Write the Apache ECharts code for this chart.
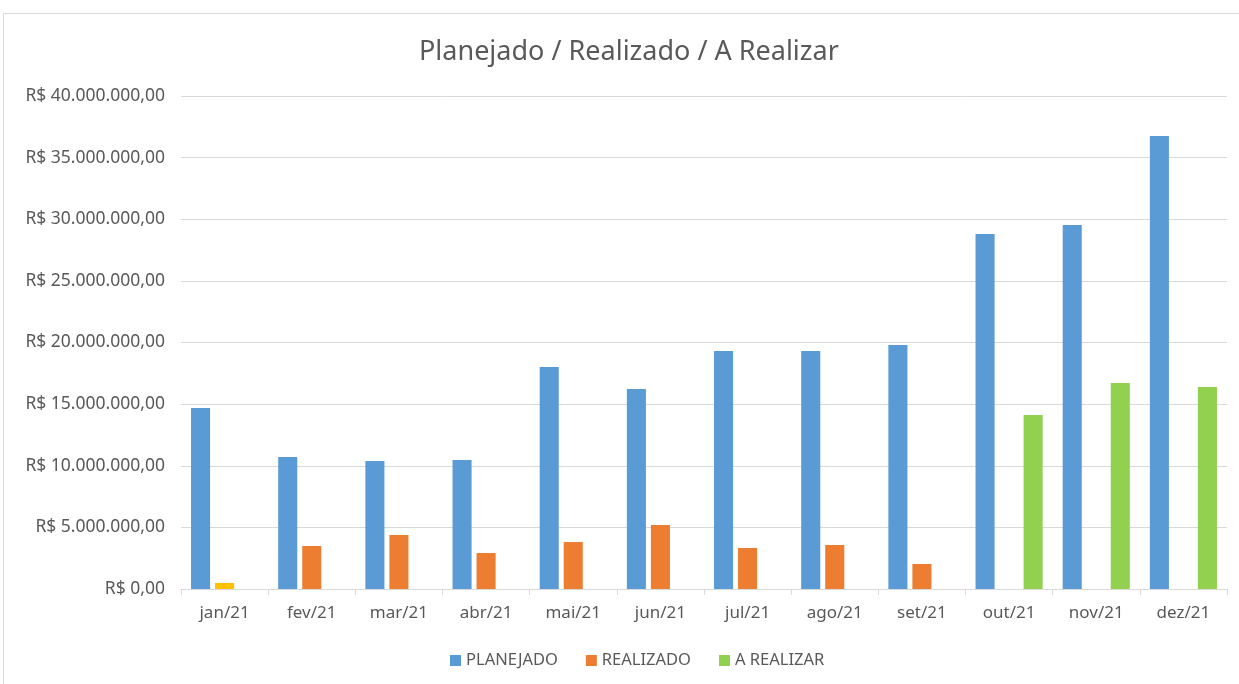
<!DOCTYPE html>
<html><head><meta charset="utf-8">
<script src="https://cdn.jsdelivr.net/npm/echarts@6/dist/echarts.min.js"></script>
<style>html,body{margin:0;padding:0;background:#fff}#c{width:1239px;height:684px}</style>
</head><body><div id="c"></div>
<script>
var categories = ['jan/21','fev/21','mar/21','abr/21','mai/21','jun/21','jul/21','ago/21','set/21','out/21','nov/21','dez/21'];
var planejado = [14690000,10710000,10390000,10470000,18010000,16230000,19310000,19310000,19800000,28800000,29530000,36750000];
var realizado = [490000,3490000,4380000,2920000,3810000,5190000,3330000,3570000,2030000,null,null,null];
var aRealizar = [null,null,null,null,null,null,null,null,null,14120000,16710000,16390000];
var seriesNames = ['PLANEJADO','REALIZADO','A REALIZAR'];

function fmt(v){
  var s = Math.round(v).toString().replace(/\B(?=(\d{3})+(?!\d))/g,'.');
  return 'R$ ' + s + ',00';
}
var font = 'Noto Sans';
var chart = echarts.init(document.getElementById('c'));
chart.setOption({
  backgroundColor:'#fff',
  animation:false,
  title:{text:'Planejado / Realizado / A Realizar',left:414,top:34,
    textStyle:{fontFamily:font,fontSize:27,fontWeight:'normal',color:'#595959'}},
  graphic:[{type:'rect',shape:{x:3.5,y:13.5,width:1240,height:680},style:{fill:'none',stroke:'#D9D9D9',lineWidth:1}}],
  legend:{bottom:10,left:445,itemWidth:11,itemHeight:11,itemGap:28,icon:'rect',
    textStyle:{fontFamily:font,fontSize:16.5,color:'#595959'},data:seriesNames},
  grid:{left:181,right:12,top:96,bottom:95,containLabel:false},
  xAxis:{type:'category',data:categories,
    axisLine:{lineStyle:{color:'#D9D9D9'}},
    axisTick:{show:true,length:6,lineStyle:{color:'#D9D9D9'}},
    axisLabel:{fontFamily:font,fontSize:17,color:'#595959',margin:16}},
  yAxis:{type:'value',min:0,max:40000000,interval:5000000,
    axisLine:{show:false},axisTick:{show:false},
    splitLine:{lineStyle:{color:'#D9D9D9'}},
    axisLabel:{fontFamily:font,fontSize:17.5,color:'#595959',margin:16,formatter:fmt}},
  series:[
    {name:seriesNames[0],type:'bar',data:planejado,itemStyle:{color:'#5B9BD5'},barGap:'26%',barCategoryGap:'23%'},
    {name:seriesNames[1],type:'bar',itemStyle:{color:'#ED7D31'},
      data:realizado.map(function(v,i){return i===0?{value:v,itemStyle:{color:'#FFC000'}}:v;})},
    {name:seriesNames[2],type:'bar',data:aRealizar,itemStyle:{color:'#92D050'}}
  ]
});
</script></body></html>
